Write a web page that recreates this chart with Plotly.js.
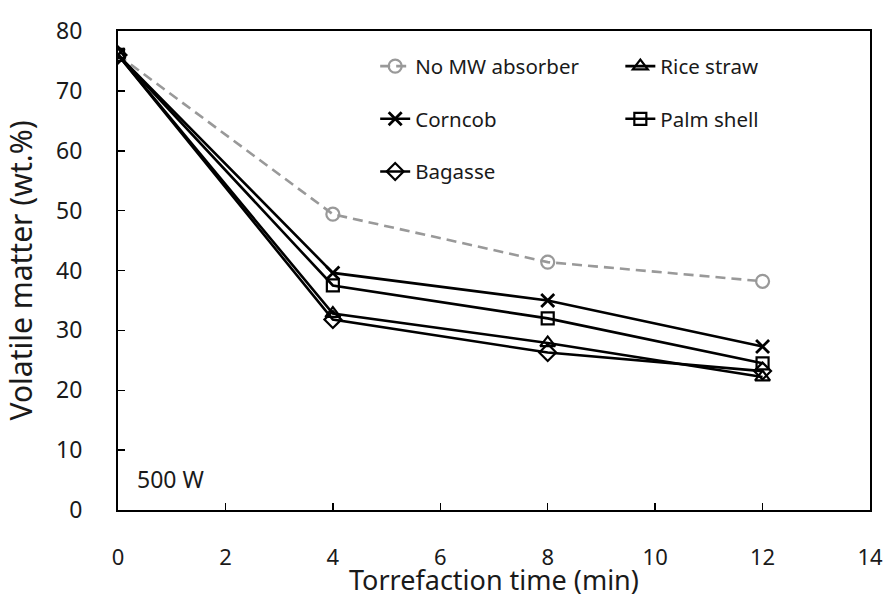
<!DOCTYPE html>
<html>
<head>
<meta charset="utf-8">
<script src="https://cdn.plot.ly/plotly-3.0.1.min.js"></script>
<style>html,body{margin:0;padding:0;background:#fff;}#chart{width:886px;height:598px;}</style>
</head>
<body>
<div id="chart"></div>
<script>
var time = [0, 4, 8, 12];
var noAbsorber = [76, 49.4, 41.4, 38.2];
var riceStraw = [76, 32.8, 27.9, 22.2];
var corncob = [76, 39.6, 35.0, 27.3];
var palmShell = [76, 37.5, 32.0, 24.5];
var bagasse = [76, 31.8, 26.3, 23.2];
var xTicks = [0, 2, 4, 6, 8, 10, 12, 14];
var yTicks = [0, 10, 20, 30, 40, 50, 60, 70, 80];

var FONT = 'Noto Sans, Open Sans, sans-serif';
var TXT = '#1a1a1a';
function tr(name, y, symbol, color, dash, legend, group) {
  return {
    x: time, y: y, name: name, type: 'scatter', mode: 'lines+markers',
    line: {color: color, width: 2.6, dash: dash},
    marker: {symbol: symbol, size: 13, color: color, line: {color: color, width: 2.2}},
    legend: legend, legendgroup: group
  };
}
var traces = [
  tr('No MW absorber', noAbsorber, 'circle-open', '#999999', '10px,6px', 'legend', 'a'),
  tr('Rice straw', riceStraw, 'triangle-up-open', '#000', 'solid', 'legend2', 'b'),
  tr('Corncob', corncob, 'x-thin-open', '#000', 'solid', 'legend', 'c'),
  tr('Palm shell', palmShell, 'square-open', '#000', 'solid', 'legend2', 'd'),
  tr('Bagasse', bagasse, 'diamond-open', '#000', 'solid', 'legend', 'e')
];
traces[2].marker.line.width = 2.8;
traces[3].marker.size = 12;

var legendBase = {
  bgcolor: 'rgba(0,0,0,0)', font: {family: FONT, size: 20.5, color: TXT},
  tracegroupgap: 23, itemwidth: 30, yanchor: 'top', xanchor: 'left', orientation: 'v'
};
var layout = {
  width: 886, height: 598,
  margin: {l: 118, r: 16, t: 31, b: 88},
  paper_bgcolor: '#fff', plot_bgcolor: '#fff',
  font: {family: FONT, size: 21, color: TXT},
  showlegend: true,
  legend: Object.assign({}, legendBase, {x: 0.342, y: 0.968}),
  legend2: Object.assign({}, legendBase, {x: 0.668, y: 0.968}),
  xaxis: {
    range: [0, 14], tickvals: xTicks, ticktext: xTicks.map(String),
    ticks: 'inside', ticklen: 7, tickwidth: 1.5, tickcolor: '#000',
    showline: true, linecolor: '#000', linewidth: 2, mirror: true,
    showgrid: false, zeroline: false, ticklabelstandoff: 27,
    tickfont: {family: FONT, size: 22, color: TXT}
  },
  yaxis: {
    range: [0, 80], tickvals: yTicks, ticktext: yTicks.map(String),
    ticks: 'inside', ticklen: 7, tickwidth: 1.5, tickcolor: '#000',
    showline: true, linecolor: '#000', linewidth: 2, mirror: true,
    showgrid: false, zeroline: false, ticklabelstandoff: 29,
    tickfont: {family: FONT, size: 23, color: TXT}
  },
  annotations: [
    {text: 'Volatile matter (wt.%)', xref: 'paper', yref: 'paper', x: -0.129, y: 0.5,
     xanchor: 'center', yanchor: 'middle',
     textangle: -90, showarrow: false, font: {family: FONT, size: 30, color: TXT}},
    {text: 'Torrefaction time (min)', xref: 'paper', yref: 'paper', x: 0.5, y: -0.146,
     xanchor: 'center', yanchor: 'middle',
     showarrow: false, font: {family: FONT, size: 27, color: TXT}},
    {text: '500 W', xref: 'paper', yref: 'paper', x: 0.022, y: 0.027, xanchor: 'left', yanchor: 'bottom',
     showarrow: false, font: {family: FONT, size: 23, color: TXT}}
  ]
};
Plotly.newPlot('chart', traces, layout, {displayModeBar: false, staticPlot: true});
</script>
</body>
</html>
